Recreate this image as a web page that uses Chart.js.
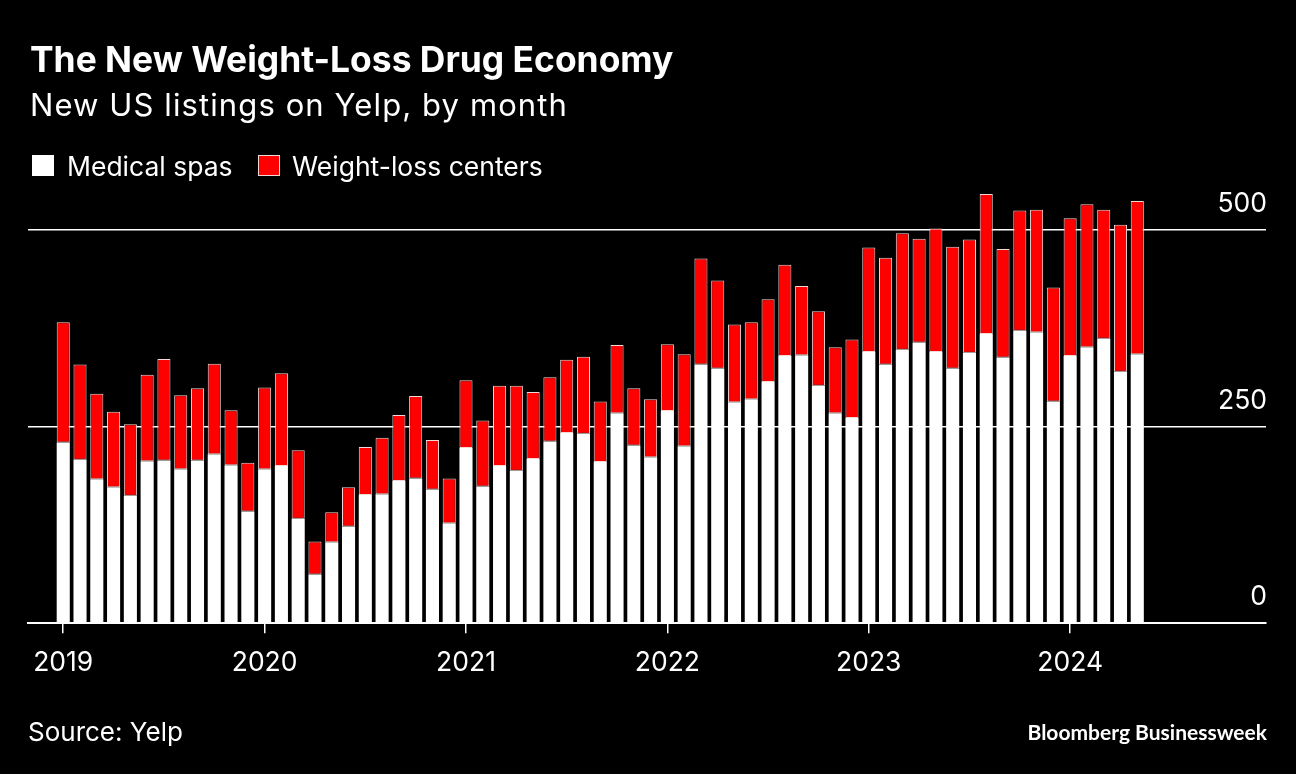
<!DOCTYPE html>
<html>
<head>
<meta charset="utf-8">
<script src="https://cdn.jsdelivr.net/npm/chart.js@4.4.1/dist/chart.umd.min.js"></script>
<style>
  html,body{margin:0;padding:0;background:#000;}
  body{width:1296px;height:774px;position:relative;overflow:hidden;font-family:Inter,"Liberation Sans",sans-serif;color:#fff;}
  .t{position:absolute;line-height:1;white-space:nowrap;}
  #title{left:30px;top:42px;font-size:35.4px;font-weight:700;}
  #sub{left:30px;top:89px;font-size:31px;letter-spacing:1.1px;}
  .sw{position:absolute;top:155px;width:22px;height:21px;}
  .lg{top:153px;font-size:26.5px;}
  #src{left:28px;top:719px;font-size:26px;}
  #brand{right:29px;top:721px;font-size:21px;font-weight:700;font-family:Lato,"Open Sans",sans-serif;}
  #wrap{position:absolute;left:0;top:0;width:1296px;height:774px;}
</style>
</head>
<body>
<div id="wrap"><canvas id="c"></canvas></div>
<div class="t" id="title">The New Weight-Loss Drug Economy</div>
<div class="t" id="sub">New US listings on Yelp, by month</div>
<div class="sw" style="left:32px;background:#fff"></div>
<div class="t lg" style="left:67px">Medical spas</div>
<div class="sw" style="left:258px;background:#ff0000;border:1px solid #f3d6d6;width:20px;height:19px"></div>
<div class="t lg" style="left:292px">Weight-loss centers</div>
<div class="t" id="src">Source: Yelp</div>
<div class="t" id="brand">Bloomberg Businessweek</div>
<script>
// monthly listings, Jan 2019 .. May 2024
const firstYear = 2019;
const yearTicks = [0, 12, 24, 36, 48, 60]; // month index of each January
const yTicks = [0, 250, 500];
const medicalSpas = [
  230,208,183,173,162,206,207,196,207,215,201,142,
  196,200,133,62,103,123,163,164,181,184,170,127,
  223,174,200,194,209,231,242,241,205,267,226,211,
  270,225,329,324,281,285,307,340,341,302,267,261,
  345,329,348,357,345,324,344,368,338,372,370,282,
  340,351,362,320,342
];
const weightLossCenters = [
  153,121,109,96,91,110,129,94,92,115,70,62,
  104,118,87,42,38,50,61,72,84,105,63,57,
  86,84,102,108,85,82,93,98,77,87,73,74,
  85,117,135,112,99,98,105,116,88,95,84,100,
  133,136,148,132,157,155,144,178,138,153,156,145,
  175,182,164,187,195
];
const pts = arr => arr.map((v, i) => ({x: i, y: v}));
const font = {family: 'Inter, "Liberation Sans", sans-serif', size: 26.5};

new Chart(document.getElementById('c'), {
  type: 'bar',
  data: {datasets: [
    {label: 'Medical spas', data: pts(medicalSpas), backgroundColor: '#ffffff', borderColor: '#ffffff', borderWidth: 0},
    {label: 'Weight-loss centers', data: pts(weightLossCenters), backgroundColor: '#ff0000', borderColor: '#f3d6d6', borderWidth: 1, borderSkipped: false}
  ]},
  options: {
    responsive: true, maintainAspectRatio: false, animation: false,
    layout: {padding: {left: 28, right: 28, top: 183, bottom: 81}},
    datasets: {bar: {categoryPercentage: 1, barPercentage: 0.78}},
    plugins: {legend: {display: false}, tooltip: {enabled: false}},
    scales: {
      x: {
        type: 'linear', stacked: true, min: -2.1, max: 71.67, offset: false,
        afterBuildTicks: s => { s.ticks = yearTicks.map(v => ({value: v})); },
        ticks: {color: '#fff', font, padding: 14, maxRotation: 0, autoSkip: false,
          callback: v => String(firstYear + v / 12)},
        grid: {offset: false, drawOnChartArea: false, drawTicks: true, tickLength: 10, color: '#fff', lineWidth: 1.5},
        border: {display: true, color: '#fff', width: 2}
      },
      y: {
        position: 'right', stacked: true, min: 0, max: 560,
        afterBuildTicks: s => { s.ticks = yTicks.map(v => ({value: v})); },
        ticks: {color: '#fff', font, mirror: true, padding: 1, labelOffset: -26},
        grid: {color: '#fff', lineWidth: 1.5, drawTicks: false},
        border: {display: false}
      }
    }
  }
});
</script>
</body>
</html>
